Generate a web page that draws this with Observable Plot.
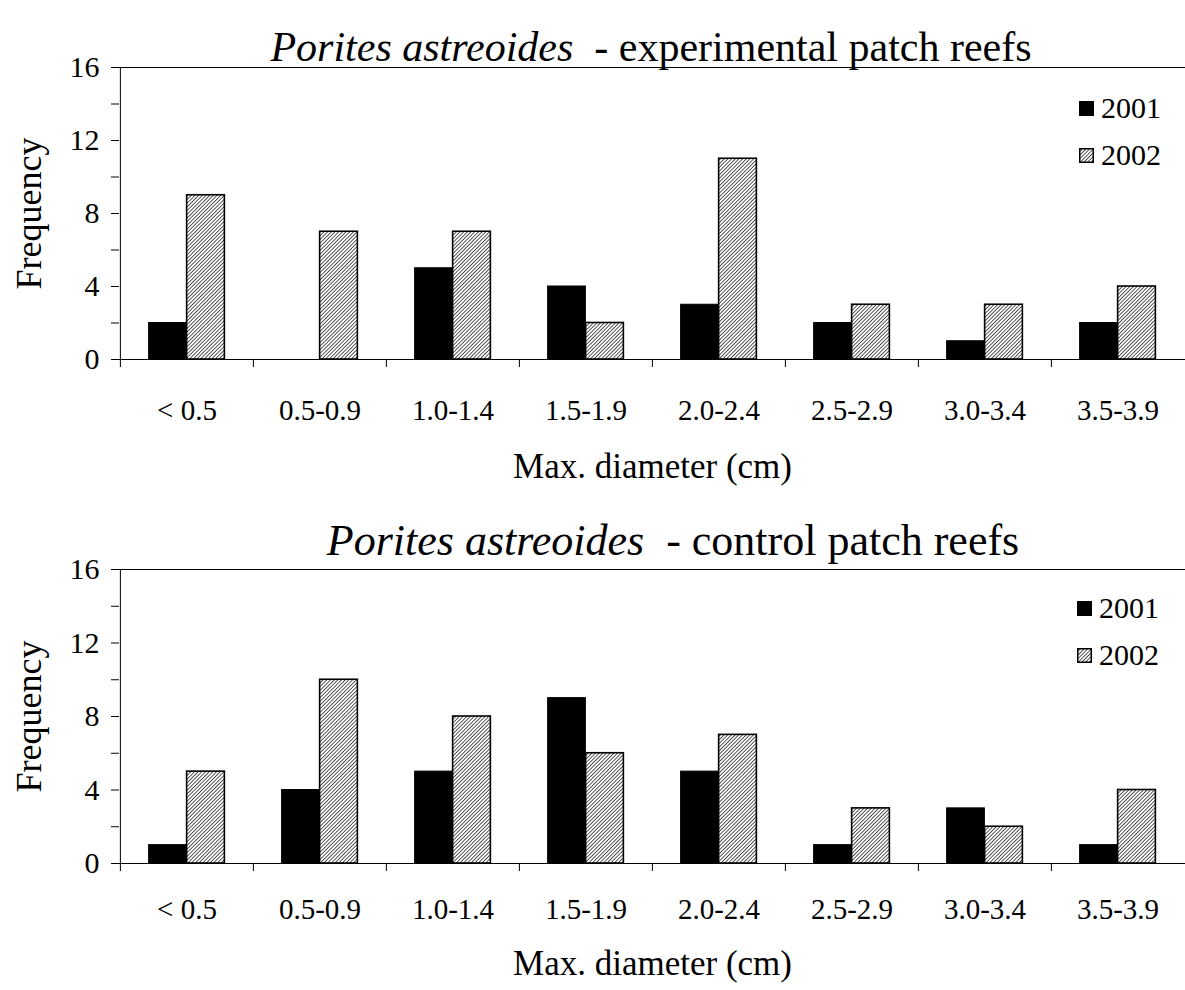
<!DOCTYPE html>
<html>
<head>
<meta charset="utf-8">
<script src="https://cdn.jsdelivr.net/npm/d3@7"></script>
<script src="https://cdn.jsdelivr.net/npm/@observablehq/plot@0.6"></script>
<style>
  body { margin: 0; background: white; }
  #page { position: relative; width: 1185px; height: 990px; font-family: "Liberation Serif", "Times New Roman", serif; color: black; }
  .svgwrap { position: absolute; left: 0; }
  .title { position: absolute; transform: translate(-50%, -50%); font-size: 42px; line-height: 1; white-space: pre; }
  .leg { position: absolute; display: flex; align-items: center; font-size: 30px; line-height: 1; transform: translateY(-50%); }
  .leg svg { margin-right: 7px; }
</style>
</head>
<body>
<svg width="0" height="0" style="position:absolute">
  <defs>
    <pattern id="hatch" patternUnits="userSpaceOnUse" width="2.6" height="2.6" patternTransform="rotate(45)">
      <rect width="2.6" height="2.6" fill="#ffffff"></rect>
      <line x1="0" y1="0" x2="0" y2="2.6" stroke="#111" stroke-width="1.4"></line>
    </pattern>
  </defs>
</svg>
<div id="page"></div>
<script>
const categories = ["< 0.5", "0.5-0.9", "1.0-1.4", "1.5-1.9", "2.0-2.4", "2.5-2.9", "3.0-3.4", "3.5-3.9"];
const experimental2001 = [2, 0, 5, 4, 3, 2, 1, 2];
const experimental2002 = [9, 7, 7, 2, 11, 3, 3, 4];
const control2001 = [1, 4, 5, 9, 5, 1, 3, 1];
const control2002 = [5, 10, 8, 6, 7, 3, 2, 4];
const yTicks = [0, 4, 8, 12, 16];
const yMinorTicks = [2, 6, 10, 14];
const years = ["2001", "2002"];
const titleSpecies = "Porites astreoides";
const titleTop = "  - experimental patch reefs";
const titleBottom = "  - control patch reefs";
const xLabel = "Max. diameter (cm)";
const yLabel = "Frequency";

const page = document.getElementById("page");
const W = 1185, ML = 119, MR = 0, H = 495;
const step = (W - ML - MR) / categories.length;
const barW = 38;

function panel(top, cfg, v2001, v2002) {
  const rows = categories.map((c, i) => ({cat: c, y2001: v2001[i], y2002: v2002[i]}));
  const chart = Plot.plot({
    width: W, height: H,
    marginLeft: ML, marginRight: MR, marginTop: cfg.mt, marginBottom: cfg.mb,
    style: {fontFamily: "Liberation Serif", fontSize: "29px", color: "black", background: "transparent", overflow: "visible"},
    x: {domain: categories, padding: 0, axis: null},
    y: {domain: [0, 16], axis: null},
    marks: [
      Plot.ruleY([16], {stroke: "black", strokeWidth: 1}),
      Plot.barY(rows, {x: "cat", y: "y2001", fill: "black", stroke: "black", strokeWidth: 1, insetLeft: step / 2 - barW, insetRight: step / 2}),
      Plot.barY(rows, {x: "cat", y: "y2002", fill: "url(#hatch)", stroke: "black", strokeWidth: 1.6, insetLeft: step / 2, insetRight: step / 2 - barW}),
      Plot.ruleY([0], {stroke: "black", strokeWidth: 1}),
      Plot.ruleX([categories[0]], {x: d => d, y1: 0, y2: 16, dx: -step / 2, stroke: "black", strokeWidth: 1}),
      Plot.axisX({tickSize: 8, dx: -step / 2, tickFormat: () => "", label: null, strokeWidth: 1, strokeOpacity: 1}),
      Plot.axisX({tickSize: 0, tickPadding: cfg.xpad, fontSize: 29, label: null}),
      Plot.axisY({ticks: yTicks, tickSize: 8, tickPadding: 12, fontSize: 30, label: null, strokeOpacity: 1}),
      Plot.axisY({ticks: yMinorTicks, tickSize: 8, tickFormat: () => "", label: null, strokeOpacity: 1}),
      Plot.text([xLabel], {frameAnchor: "bottom", dy: cfg.xlab, fontSize: 35}),
      Plot.text([yLabel], {frameAnchor: "left", dx: -90, rotate: -90, textAnchor: "middle", fontSize: 36})
    ]
  });
  const wrap = document.createElement("div");
  wrap.className = "svgwrap";
  wrap.style.top = top + "px";
  wrap.appendChild(chart);
  page.appendChild(wrap);
}

panel(0, {mt: 67, mb: H - 359, xpad: 40, xlab: 118}, experimental2001, experimental2002);
panel(495, {mt: 74, mb: H - 368, xpad: 35, xlab: 111}, control2001, control2002);

function title(cx, cy, rest, size) {
  const d = document.createElement("div");
  d.className = "title";
  d.style.left = cx + "px";
  d.style.top = cy + "px";
  d.style.fontSize = size + "px";
  const i = document.createElement("i");
  i.textContent = titleSpecies;
  d.appendChild(i);
  d.appendChild(document.createTextNode(rest));
  page.appendChild(d);
}
title(651, 47, titleTop, 42);
title(673, 541, titleBottom, 44);

function legend(x, ys) {
  years.forEach((yr, k) => {
    const d = document.createElement("div");
    d.className = "leg";
    d.style.left = x + "px";
    d.style.top = ys[k] + "px";
    const fill = k === 0 ? "black" : "url(#hatch)";
    d.innerHTML = `<svg width="15" height="15"><rect x="0.75" y="0.75" width="13.5" height="13.5" fill="${fill}" stroke="black" stroke-width="1.5"></rect></svg><span>${yr}</span>`;
    page.appendChild(d);
  });
}
legend(1079, [108, 155]);
legend(1077, [608, 655]);
</script>
</body>
</html>
